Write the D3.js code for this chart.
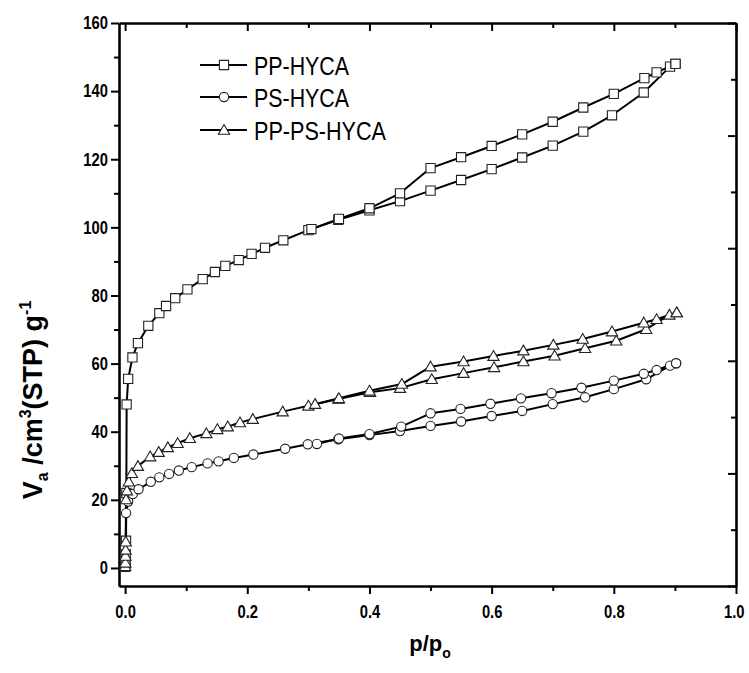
<!DOCTYPE html>
<html><head><meta charset="utf-8">
<script src="https://cdn.jsdelivr.net/npm/d3@7"></script>
<style>body{margin:0;background:#fff}</style>
</head><body><svg id="c" width="749" height="673"></svg>
<script>
// ---------------- data ----------------
const seriesNames = ["PP-HYCA", "PS-HYCA", "PP-PS-HYCA"];
const ppAds = [[0.0003,0.3],[0.0006,1.5],[0.001,4],[0.0015,8],[0.002,22],[0.0025,48],[0.005,55.5],[0.012,61.8],[0.021,66],[0.038,71.1],[0.056,74.8],[0.067,76.9],[0.082,79.2],[0.102,81.8],[0.127,84.8],[0.147,86.9],[0.164,88.7],[0.186,90.4],[0.207,92.2],[0.229,94.0],[0.259,96.2],[0.30,99.2],[0.349,102.2],[0.40,105.0],[0.45,107.7],[0.50,110.8],[0.55,113.9],[0.60,117.1],[0.65,120.5],[0.70,124.0],[0.75,128.1],[0.797,132.9],[0.849,139.6],[0.892,147.2],[0.901,148.0]];
const ppDes = [[0.901,148.0],[0.87,145.5],[0.85,143.8],[0.80,139.2],[0.75,135.2],[0.70,131.0],[0.65,127.3],[0.60,123.9],[0.55,120.6],[0.50,117.4],[0.45,110.0],[0.40,105.6],[0.35,102.5],[0.305,99.5]];
const psAds = [[0.0003,0.3],[0.0008,1.2],[0.0016,16.1],[0.005,19.5],[0.0126,21.7],[0.022,23.1],[0.042,25.3],[0.056,26.6],[0.072,27.6],[0.088,28.6],[0.109,29.6],[0.135,30.7],[0.153,31.3],[0.178,32.3],[0.21,33.3],[0.262,35.0],[0.299,36.3],[0.349,37.8],[0.40,39.0],[0.45,40.2],[0.50,41.7],[0.55,43.0],[0.60,44.6],[0.65,46.1],[0.70,48.1],[0.753,50.1],[0.80,52.5],[0.853,55.4],[0.892,59.4],[0.902,60.1]];
const psDes = [[0.902,60.1],[0.87,58.1],[0.849,57.0],[0.80,55.0],[0.747,52.9],[0.698,51.3],[0.648,49.8],[0.598,48.2],[0.549,46.7],[0.50,45.4],[0.452,41.5],[0.40,39.3],[0.35,38.0],[0.314,36.4]];
const ppsAds = [[0.0002,0.5],[0.0004,1.5],[0.0006,3.5],[0.0008,5.3],[0.001,7.7],[0.0015,20.1],[0.003,22.7],[0.006,25.3],[0.011,27.8],[0.021,29.9],[0.041,32.7],[0.055,34.0],[0.07,35.4],[0.086,36.6],[0.106,38.1],[0.133,39.5],[0.151,40.7],[0.168,41.5],[0.188,42.7],[0.209,43.7],[0.258,45.9],[0.30,47.6],[0.349,49.6],[0.401,51.6],[0.45,52.8],[0.502,55.4],[0.554,57.2],[0.604,58.9],[0.652,60.6],[0.703,62.3],[0.753,64.5],[0.804,66.7],[0.853,70.1],[0.891,74.3],[0.903,75.0]];
const ppsDes = [[0.903,75.0],[0.87,73.0],[0.849,72.0],[0.797,69.4],[0.749,67.2],[0.701,65.5],[0.652,63.8],[0.603,62.2],[0.554,60.6],[0.50,59.1],[0.453,54.0],[0.40,52.0],[0.35,49.8],[0.311,48.1]];
const xMajor = [0, 0.2, 0.4, 0.6, 0.8, 1.0];
const xMinor = [0.1, 0.3, 0.5, 0.7, 0.9];
const yMajor = [0, 20, 40, 60, 80, 100, 120, 140, 160];
const yMinor = [10, 30, 50, 70, 90, 110, 130, 150];
const rMajor = [0, 20, 40, 60, 80, 100];
const rMinor = [10, 30, 50, 70, 90];

// ---------------- drawing ----------------
const svg = d3.select('#c');
const FONT = "'Liberation Sans', Arial, sans-serif";
const x = d3.scaleLinear().domain([-0.01, 1.0]).range([119, 736]);
const y = d3.scaleLinear().domain([-5.3, 160]).range([586, 23]);
const yr = d3.scaleLinear().domain([0, 100]).range([586, 23]);

function narrow(sel, f) {
  sel.each(function () {
    const w = this.getComputedTextLength();
    d3.select(this).attr('textLength', w * f).attr('lengthAdjust', 'spacingAndGlyphs');
  });
}
function styleAxis(g) {
  g.selectAll('.tick line').attr('stroke', '#000').attr('stroke-width', 2);
  g.selectAll('path.domain').attr('stroke', '#000').attr('stroke-width', 2.6);
  g.selectAll('text').attr('fill', '#000').attr('font-family', FONT).attr('font-weight', 'bold').attr('font-size', 18);
}

// bottom
const gB = svg.append('g').attr('transform', 'translate(0,586)')
  .call(d3.axisBottom(x).tickValues(xMajor).tickSize(8).tickSizeOuter(0).tickPadding(11).tickFormat(d3.format('.1f')));
styleAxis(gB); narrow(gB.selectAll('text'), 0.82);
gB.selectAll('.tick').filter(d => d === 1.0).select('text').attr('text-anchor', 'end').attr('x', 8);
const gBm = svg.append('g').attr('transform', 'translate(0,586)')
  .call(d3.axisBottom(x).tickValues(xMinor).tickSize(5).tickFormat(''));
gBm.select('.domain').remove(); styleAxis(gBm);
// top (inward)
const gT = svg.append('g').attr('transform', 'translate(0,23)')
  .call(d3.axisBottom(x).tickValues(xMajor).tickSize(8).tickSizeOuter(0).tickFormat(''));
styleAxis(gT);
const gTm = svg.append('g').attr('transform', 'translate(0,23)')
  .call(d3.axisBottom(x).tickValues(xMinor).tickSize(5).tickFormat(''));
gTm.select('.domain').remove(); styleAxis(gTm);
// left
const gL = svg.append('g').attr('transform', 'translate(119,0)')
  .call(d3.axisLeft(y).tickValues(yMajor).tickSize(8).tickSizeOuter(0).tickPadding(3).tickFormat(d3.format('d')));
styleAxis(gL); narrow(gL.selectAll('text'), 0.82);
const gLm = svg.append('g').attr('transform', 'translate(119,0)')
  .call(d3.axisLeft(y).tickValues(yMinor).tickSize(5).tickFormat(''));
gLm.select('.domain').remove(); styleAxis(gLm);
// right (inward, independent ticks)
const gR = svg.append('g').attr('transform', 'translate(736,0)')
  .call(d3.axisLeft(yr).tickValues(rMajor).tickSize(8).tickSizeOuter(0).tickFormat(''));
styleAxis(gR);
const gRm = svg.append('g').attr('transform', 'translate(736,0)')
  .call(d3.axisLeft(yr).tickValues(rMinor).tickSize(5).tickFormat(''));
gRm.select('.domain').remove(); styleAxis(gRm);

// lines
const line = d3.line().x(d => x(d[0])).y(d => y(d[1]));
const branches = [ppAds, ppDes, psAds, psDes, ppsAds, ppsDes];
svg.append('g').selectAll('path').data(branches).join('path')
  .attr('d', line).attr('fill', 'none').attr('stroke', '#000').attr('stroke-width', 2).attr('stroke-linejoin', 'round');

// markers
const sq = d3.symbol().type(d3.symbolSquare).size(85);
const ci = d3.symbol().type(d3.symbolCircle).size(68);
const tr = d3.symbol().type(d3.symbolTriangle).size(55);
const markerDefs = [
  { data: ppAds.concat(ppDes), sym: sq, dy: 0 },
  { data: psAds.concat(psDes), sym: ci, dy: 0 },
  { data: ppsAds.concat(ppsDes), sym: tr, dy: 1 }
];
markerDefs.forEach(m => {
  svg.append('g').selectAll('path').data(m.data).join('path')
    .attr('transform', d => `translate(${x(d[0])},${y(d[1]) + m.dy})`)
    .attr('d', m.sym()).attr('fill', '#fff').attr('stroke', '#222').attr('stroke-width', 1.1);
});

// legend
const legY = [65, 97, 130];
const legSyms = [sq, ci, tr];
const legW = [95, 95, 132];
seriesNames.forEach((name, i) => {
  const g = svg.append('g');
  g.append('line').attr('x1', 200).attr('x2', 247).attr('y1', legY[i]).attr('y2', legY[i]).attr('stroke', '#000').attr('stroke-width', 2);
  g.append('path').attr('transform', `translate(224,${legY[i] + (i === 2 ? 1 : 0)})`).attr('d', legSyms[i]()).attr('fill', '#fff').attr('stroke', '#222').attr('stroke-width', 1.1);
  g.append('text').attr('x', 254).attr('y', legY[i] + 9.5).attr('font-family', FONT).attr('font-size', 26)
    .attr('textLength', legW[i]).attr('lengthAdjust', 'spacingAndGlyphs').text(name);
});

// axis titles
const yt = svg.append('text').attr('transform', 'translate(42,400) rotate(-90)').attr('text-anchor', 'middle')
  .attr('font-family', FONT).attr('font-weight', 'bold').attr('font-size', 27).attr('fill', '#000');
yt.append('tspan').text('V');
yt.append('tspan').attr('font-size', 16).attr('dy', 6).text('a');
yt.append('tspan').attr('dy', -6).text(' /cm');
yt.append('tspan').attr('font-size', 16).attr('dy', -11).text('3');
yt.append('tspan').attr('dy', 11).text('(STP) g');
yt.append('tspan').attr('font-size', 16).attr('dy', -11).text('-1');

const xt = svg.append('text').attr('x', 430).attr('y', 651).attr('text-anchor', 'middle')
  .attr('font-family', FONT).attr('font-weight', 'bold').attr('font-size', 22).attr('fill', '#000');
xt.append('tspan').text('p/p');
xt.append('tspan').attr('font-size', 14).attr('dy', 7).text('o');
</script>
</body></html>
